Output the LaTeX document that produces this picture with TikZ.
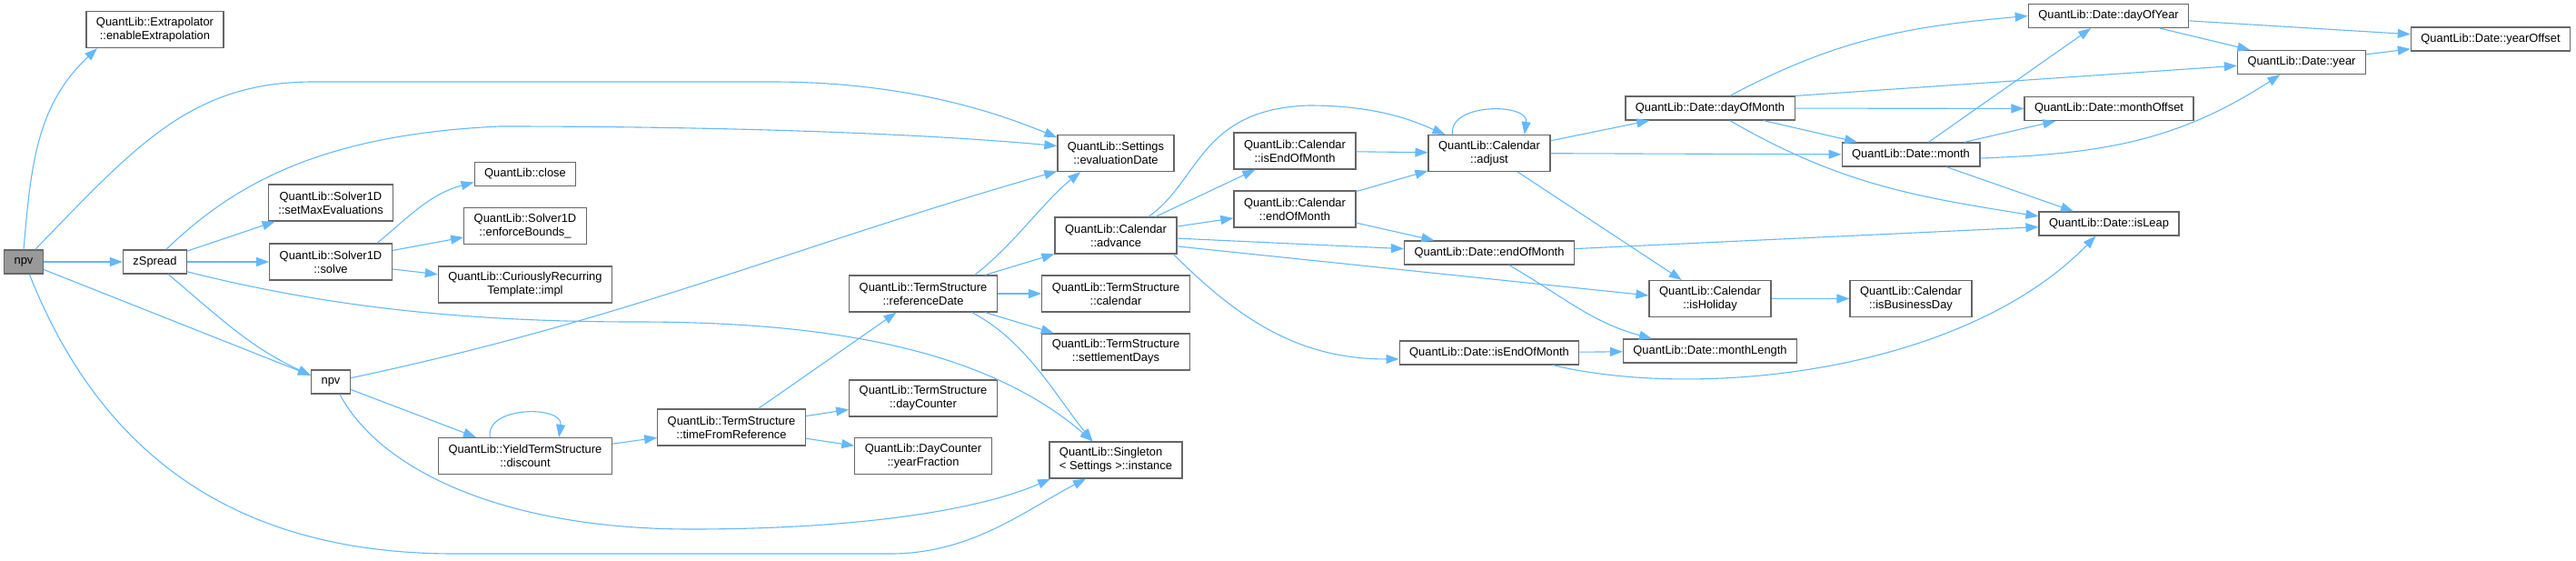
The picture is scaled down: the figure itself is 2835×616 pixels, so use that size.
\documentclass[tikz,border=0pt]{standalone}
\usepackage{fontspec}
\setmainfont{Liberation Sans}
\usetikzlibrary{arrows.meta}
\definecolor{edgeblue}{HTML}{63B8FF}
\definecolor{boxline}{HTML}{666666}
\definecolor{rootfill}{HTML}{999999}
\tikzset{
  fnbox/.style={draw=boxline,fill=white,line width=1.2pt,inner xsep=11pt,inner ysep=1pt,
    minimum height=26pt,align=center,font=\fontsize{12.9}{15}\selectfont},
  fnboxtwo/.style={fnbox,minimum height=40pt},   % two-line label
  fnroot/.style={fnbox,fill=rootfill},           % the documented function
  calls/.style={-{Triangle[length=14pt,width=10pt]},line width=1.1pt,draw=edgeblue},
}
\begin{document}
\begin{tikzpicture}[x=1pt,y=1pt]
  \useasboundingbox (0,0) rectangle (2835,-616);
  % ---- left part
  \node[fnroot] (root) at (26,-288) {npv};
  \node[fnboxtwo] (extr) at (170.5,-32.5) {QuantLib::Extrapolator\\::enableExtrapolation};
  \node[fnbox] (zsp) at (170.5,-288) {zSpread};
  \node[fnboxtwo] (smx) at (364,-223) {QuantLib::Solver1D\\::setMaxEvaluations};
  \node[fnboxtwo] (slv) at (364,-288) {QuantLib::Solver1D\\::solve};
  \node[fnbox] (npvb) at (364,-420) {npv};
  \node[fnbox] (cls) at (578,-191.5) {QuantLib::close};
  \node[fnboxtwo] (enfb) at (578,-248.5) {QuantLib::Solver1D\\::enforceBounds\_};
  \node[fnboxtwo] (impl) at (578,-313) {QuantLib::CuriouslyRecurring\\Template::impl};
  \node[fnboxtwo] (disc) at (578,-501.5) {QuantLib::YieldTermStructure\\::discount};
  \node[fnboxtwo] (tfr) at (805,-470) {QuantLib::TermStructure\\::timeFromReference};
  \node[fnboxtwo] (rfd) at (1016,-323) {QuantLib::TermStructure\\::referenceDate};
  \node[fnboxtwo] (dcn) at (1016,-438) {QuantLib::TermStructure\\::dayCounter};
  \node[fnboxtwo] (yfr) at (1016,-501.5) {QuantLib::DayCounter\\::yearFraction};
  % ---- middle part
  \node[fnboxtwo] (evd) at (1228,-168.5) {QuantLib::Settings\\::evaluationDate};
  \node[fnboxtwo] (adv) at (1228,-259) {QuantLib::Calendar\\::advance};
  \node[fnboxtwo] (tcal) at (1228,-323) {QuantLib::TermStructure\\::calendar};
  \node[fnboxtwo] (sdays) at (1228,-387) {QuantLib::TermStructure\\::settlementDays};
  \node[fnboxtwo,align=left] (sing) at (1228,-506) {QuantLib::Singleton\\< Settings >::instance};
  \node[fnboxtwo] (ceom) at (1425,-166) {QuantLib::Calendar\\::isEndOfMonth};
  \node[fnboxtwo] (ceo) at (1425,-230) {QuantLib::Calendar\\::endOfMonth};
  \node[fnboxtwo] (adj) at (1639,-168.5) {QuantLib::Calendar\\::adjust};
  \node[fnbox] (deom) at (1639,-278) {QuantLib::Date::endOfMonth};
  \node[fnbox] (dieom) at (1639,-388) {QuantLib::Date::isEndOfMonth};
  % ---- right part
  \node[fnbox] (dom) at (1882,-119) {QuantLib::Date::dayOfMonth};
  \node[fnboxtwo] (hol) at (1882,-328.5) {QuantLib::Calendar\\::isHoliday};
  \node[fnbox] (mlen) at (1882,-386) {QuantLib::Date::monthLength};
  \node[fnbox] (mon) at (2103,-170) {QuantLib::Date::month};
  \node[fnboxtwo] (bday) at (2103,-328.5) {QuantLib::Calendar\\::isBusinessDay};
  \node[fnbox] (doy) at (2320.5,-17.5) {QuantLib::Date::dayOfYear};
  \node[fnbox] (mof) at (2321,-119.5) {QuantLib::Date::monthOffset};
  \node[fnbox] (leap) at (2321,-246) {QuantLib::Date::isLeap};
  \node[fnbox] (yr) at (2533,-68.5) {QuantLib::Date::year};
  \node[fnbox] (yof) at (2741,-43) {QuantLib::Date::yearOffset};

  % calls of npv
  \draw[calls] (root.north) to[out=85,in=223] (extr.198);
  \draw[calls] (root) -- (zsp);
  \draw[calls] (root.-21) -- (npvb.162);
  \draw[calls] (root.47) .. controls (150,-160) and (210,-90) .. (345,-90) -- (850,-90)
    .. controls (1000,-90) and (1100,-125) .. (evd.165);
  \draw[calls] (root.-65) .. controls (115,-510) and (270,-609) .. (500,-609) -- (980,-609)
    .. controls (1070,-609) and (1130,-560) .. (sing.212);
  % calls of zSpread
  \draw[calls] (zsp) -- (smx);
  \draw[calls] (zsp) -- (slv);
  \draw[calls] (zsp.-43) to[out=-40,in=155] (npvb.162);
  \draw[calls] (zsp.48) .. controls (255,-205) and (350,-148) .. (550,-139)
    .. controls (850,-139) and (1050,-150) .. (evd.173);
  \draw[calls] (zsp.-17) .. controls (350,-335) and (500,-354) .. (700,-354)
    .. controls (900,-354) and (1080,-380) .. (sing.141);
  % calls of solve
  \draw[calls] (slv.22) to[out=40,in=195] (cls.189);
  \draw[calls] (slv) -- (enfb);
  \draw[calls] (slv) -- (impl);
  % calls of the second npv
  \draw[calls] (npvb.11) to[out=12,in=196] (evd.197);
  \draw[calls] (npvb) -- (disc);
  \draw[calls] (npvb.-54) .. controls (420,-520) and (560,-582) .. (760,-582)
    .. controls (950,-582) and (1080,-560) .. (sing.196);
  % discount, timeFromReference
  \draw[calls] (disc.152) .. controls +(-5,35) and +(5,35) .. (disc.29);
  \draw[calls] (disc) -- (tfr);
  \draw[calls] (tfr) -- (rfd);
  \draw[calls] (tfr) -- (dcn);
  \draw[calls] (tfr) -- (yfr);
  % referenceDate
  \draw[calls] (rfd.20) .. controls (1115,-270) and (1150,-220) .. (evd.208);
  \draw[calls] (rfd) -- (adv);
  \draw[calls] (rfd) -- (tcal);
  \draw[calls] (rfd) -- (sdays);
  \draw[calls] (rfd.-21) .. controls (1130,-375) and (1165,-440) .. (sing.141);
  % advance
  \draw[calls] (adv) -- (ceom);
  \draw[calls] (adv) -- (ceo);
  \draw[calls] (adv.30) .. controls (1320,-200) and (1320,-120) .. (1440,-116)
    .. controls (1520,-116) and (1560,-135) .. (adj.157);
  \draw[calls] (adv) -- (deom);
  \draw[calls] (adv.-18) to[out=-45,in=180] (dieom.184);
  \draw[calls] (adv.-10) -- (hol.177);
  \draw[calls] (ceom) -- (adj);
  \draw[calls] (ceo) -- (adj);
  \draw[calls] (ceo) -- (deom);
  % adjust
  \draw[calls] (adj.153) .. controls +(-5,35) and +(5,35) .. (adj.28);
  \draw[calls] (adj) -- (dom);
  \draw[calls] (adj) -- (mon);
  \draw[calls] (adj) -- (hol);
  % Date::endOfMonth, Date::isEndOfMonth
  \draw[calls] (deom) -- (leap);
  \draw[calls] (deom.-32) to[out=-30,in=165] (mlen.168);
  \draw[calls] (dieom) -- (mlen);
  \draw[calls] (dieom.-11) .. controls (1870,-440) and (2160,-410) .. (leap.223);
  % dayOfMonth
  \draw[calls] (dom.32) to[out=28,in=185] (doy.west);
  \draw[calls] (dom.north east) -- (yr.183);
  \draw[calls] (dom) -- (mof);
  \draw[calls] (dom) -- (mon);
  \draw[calls] (dom.-32) to[out=-30,in=171] (leap.174);
  % month
  \draw[calls] (mon) -- (doy);
  \draw[calls] (mon) -- (mof);
  \draw[calls] (mon.-3) to[out=2,in=213] (yr.210);
  \draw[calls] (mon) -- (leap);
  % the rest
  \draw[calls] (hol) -- (bday);
  \draw[calls] (doy) -- (yr);
  \draw[calls] (doy) -- (yof);
  \draw[calls] (yr) -- (yof);
\end{tikzpicture}
\end{document}
